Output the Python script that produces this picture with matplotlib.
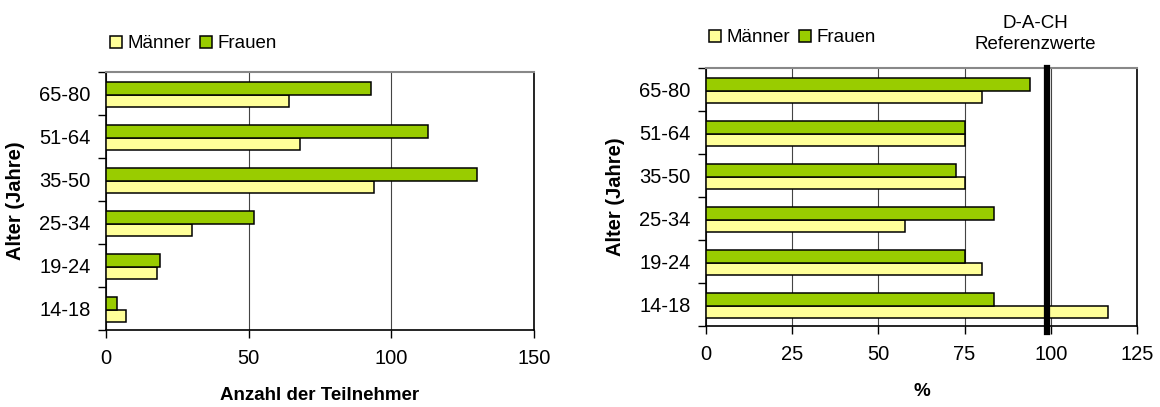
import numpy as np
import matplotlib
matplotlib.use('Agg')
import matplotlib.pyplot as plt
from matplotlib.patches import Patch
from matplotlib.ticker import FixedLocator

plt.rcParams['font.family'] = ['Liberation Sans', 'DejaVu Sans']

# Daten
alter = ['14-18', '19-24', '25-34', '35-50', '51-64', '65-80']
anzahl_maenner = [7, 18, 30, 94, 68, 64]
anzahl_frauen = [4, 19, 52, 130, 113, 93]
prozent_maenner = [116.6, 80, 57.6, 75, 75, 80]
prozent_frauen = [83.5, 75, 83.5, 72.5, 75, 94]
referenz = 99

links_ticks = [0, 50, 100, 150]
rechts_ticks = [0, 25, 50, 75, 100, 125]

farbe_m = '#FFFF99'
farbe_f = '#99CC00'

gr_tick, gr_text = 14.5, 13.5

fig = plt.figure(figsize=(11.6, 4.07), dpi=100)
ax1 = fig.add_axes([106 / 1160, 1 - 330 / 407, 428 / 1160, 258 / 407])
ax2 = fig.add_axes([706 / 1160, 1 - 326 / 407, 431 / 1160, 258 / 407])

y = np.arange(len(alter))
h = 0.29


def balken(ax, m, f, ticks, xlabel):
    ax.barh(y - h / 2 - 0.03, m, height=h, color=farbe_m, edgecolor='black', linewidth=1.1, zorder=3)
    ax.barh(y + h / 2 - 0.03, f, height=h, color=farbe_f, edgecolor='black', linewidth=1.1, zorder=3)
    ax.set_xlim(ticks[0], ticks[-1])
    ax.set_ylim(-0.5, len(alter) - 0.5)
    ax.set_xticks(ticks)
    ax.set_yticks(y)
    ax.set_yticklabels(alter)
    ax.yaxis.set_minor_locator(FixedLocator(np.arange(-0.5, len(alter), 1)))
    ax.tick_params(axis='y', which='major', length=0, pad=11, labelsize=gr_tick)
    ax.tick_params(axis='y', which='minor', length=6, width=1, direction='out')
    ax.tick_params(axis='x', length=6, width=1, direction='out', pad=8, labelsize=gr_tick)
    ax.grid(axis='x', color='#444444', linewidth=0.8, zorder=0)
    ax.spines['top'].set_color('#888888')
    ax.spines['top'].set_linewidth(1.5)
    for s in ['left', 'bottom', 'right']:
        ax.spines[s].set_color('black')
        ax.spines[s].set_linewidth(1.2)
    ax.set_xlabel(xlabel, fontsize=13.5, fontweight='bold', labelpad=13)
    ax.set_ylabel('Alter (Jahre)', fontsize=14.5, fontweight='bold', labelpad=10)


balken(ax1, anzahl_maenner, anzahl_frauen, links_ticks, 'Anzahl der Teilnehmer')
balken(ax2, prozent_maenner, prozent_frauen, rechts_ticks, '%')

ax2.plot([referenz, referenz], [1, -0.025], color='black', linewidth=4.5,
         transform=ax2.get_xaxis_transform(), clip_on=False, zorder=5)
fig.text(1035 / 1160, 1 - 34 / 407, 'D-A-CH\nReferenzwerte', ha='center', va='center',
         fontsize=gr_text, linespacing=1.25)

handles = [Patch(facecolor=farbe_m, edgecolor='black', linewidth=1.1, label='Männer'),
           Patch(facecolor=farbe_f, edgecolor='black', linewidth=1.1, label='Frauen')]
for bx, by in [(110, 44), (709, 38)]:
    fig.legend(handles=handles, loc='center left', bbox_to_anchor=(bx / 1160, 1 - by / 407),
               ncol=2, frameon=False, fontsize=gr_text,
               handlelength=0.65, handleheight=0.65,
               handletextpad=0.3, columnspacing=0.45, borderpad=0, borderaxespad=0)

fig.savefig('out.png', dpi=100)
